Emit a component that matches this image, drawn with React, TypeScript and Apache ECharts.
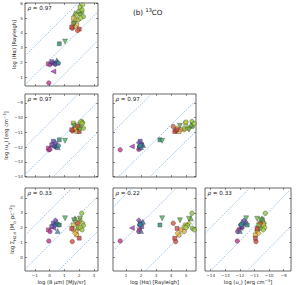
import React, { useEffect, useRef } from 'react';
import * as echarts from 'echarts';

const FONT = 'DejaVu Sans';
const W = 299;
const H = 285;

// Per-region values: log 8um, log Halpha, log u_nu, log Sigma_H2,d
const logP8 = [
  -0.05, 0.26, -0.08, 0.03, 0.26, 0.15, 0.37, 0.49, 0.55, 0.4, 0.6, 0.66, 1.05,
  2.18, 2.24, 2.06, 1.95, 1.72, 1.84, 1.61, 1.79, 1.95, 1.61, 1.84, 1.72, 1.54, 2.01, 1.9, 2.29, 2.06, 1.66, 2.1, 1.5, 2.2,
];
const logHa = [
  0.61, 1.39, 1.9, 1.85, 1.95, 2.05, 1.9, 2.13, 2.0, 1.85, 1.95, 3.26, 3.41,
  5.4, 5.89, 5.73, 5.43, 5.33, 5.2, 4.98, 4.88, 4.88, 4.65, 4.54, 4.42, 4.31, 4.25, 4.15, 5.1, 5.2, 4.6, 5.0, 4.4, 5.55,
];
const logU = [
  -12.18, -11.95, -12.06, -12.15, -11.6, -11.84, -11.95, -11.85, -12.0, -11.7, -11.9, -11.5, -11.57,
  -10.26, -10.35, -10.45, -10.6, -10.49, -10.71, -10.37, -10.82, -10.71, -10.82, -10.94, -10.71, -10.9, -10.94, -10.6, -10.71, -10.82, -10.55, -10.3, -10.82, -10.4,
];
const logSigma = [
  1.1, 1.98, 1.85, 1.74, 2.3, 2.07, 2.18, 2.4, 1.78, 2.5, 2.2, 2.18, 2.63,
  2.97, 2.3, 2.52, 1.96, 2.63, 2.3, 2.18, 1.74, 2.05, 1.85, 1.51, 1.62, 1.06, 1.29, 2.3, 2.15, 2.6, 2.5, 2.0, 1.95, 1.85,
];
const pointColors = [
  '#c2378f', '#a040b8', '#d0458a', '#b03c9c', '#5b4cb5', '#6d46ab', '#4260bd', '#3a6aa8', '#4a7fa6', '#7a4fb2', '#3b8c94', '#2e8b6e', '#4caf5f',
  '#8fc640', '#a8d23c', '#9ccb3b', '#7db843', '#68ad4b', '#b6cc3a', '#c9c83a', '#d9b842', '#a9c242', '#e39f3f', '#eab83b', '#f0c43e', '#d6483a', '#cf3f3f', '#d55a3c', '#8cc23f', '#72b444', '#5aa84f', '#b2d23e', '#c44a45', '#98c93f',
];
const pointShapes = [
  'circle', 'triL', 'rect', 'circle', 'rect', 'rect', 'circle', 'triangle', 'triangle', 'diamond', 'circle', 'rect', 'triDown',
  'circle', 'circle', 'rect', 'circle', 'triangle', 'diamond', 'rect', 'circle', 'circle', 'circle', 'rect', 'diamond', 'circle', 'rect', 'circle', 'circle', 'triDown', 'triDown', 'circle', 'rect', 'circle',
];

// Corner layout
const colVars = [logP8, logHa, logU];
const rowVars = [logHa, logU, logSigma];
const panelRows = [0, 1, 1, 2, 2, 2];
const panelCols = [0, 0, 1, 0, 1, 2];
const rhoValues = ['0.97', '0.97', '0.97', '0.33', '0.22', '0.33'];
const diagOffsets = [
  [0.2, 2.15, 4.1],
  [-14.25, -12.2, -10.35],
  [-16.6, -14.5, -11.1],
  [-1.5, 0.85, 3.15],
  [-3.2, 0.3, 3.25],
  [10.6, 13.1, 16.0],
];

const colTicks = [[-1, 0, 1, 2, 3], [1, 2, 3, 4, 5], [-14, -13, -12, -11, -10, -9]];
const rowTicks = [[1, 2, 3, 4, 5, 6], [-14, -13, -12, -11, -10, -9], [0, 1, 2, 3, 4]];
const colRanges = [[-1.66, 3.28], [0.13, 5.67], [-14.39, -8.5]];
const rowRanges = [[0.4, 6.02], [-14.02, -8.4], [-0.92, 4.67]];

const colNames = [
  '{n|log (8 μm) [MJy/sr]}',
  '{n|log (Hα) [Rayleigh]}',
  '{n|log (u}{s|ν}{n|) [erg cm}{p|−3}{n|]}',
];
const rowNames = [
  '{n|log (Hα) [Rayleigh]}',
  '{n|log (u}{s|ν}{n|) [erg cm}{p|−3}{n|]}',
  '{n|log Σ}{s|H2,d}{n| [M}{s|⊙}{n| pc}{p|−2}{n|]}',
];
const rowNameGaps = [6, 13, 7];

const colBoxes = [[25, 98], [113, 196], [205, 291]];
const rowBoxes = [[3, 86], [94, 177], [188, 271]];

const nameRich = {
  n: { fontSize: 5.2, fontFamily: FONT, color: '#222', lineHeight: 8 },
  s: { fontSize: 3.8, fontFamily: FONT, color: '#222', verticalAlign: 'bottom' },
  p: { fontSize: 3.8, fontFamily: FONT, color: '#222', verticalAlign: 'top' },
};

const fmt = (v: number) => (v < 0 ? '−' + Math.abs(v) : String(v));

function buildOption() {
  const grid: any[] = [];
  const xAxis: any[] = [];
  const yAxis: any[] = [];
  const series: any[] = [];
  const graphic: any[] = [];
  const tickStyle = { color: '#222', width: 0.5 };

  panelRows.forEach((r, i) => {
    const c = panelCols[i];
    const isBottom = r === 2;
    const isLeft = c === 0;
    grid.push({
      left: colBoxes[c][0],
      top: rowBoxes[r][0],
      width: colBoxes[c][1] - colBoxes[c][0],
      height: rowBoxes[r][1] - rowBoxes[r][0],
      show: true,
      borderColor: '#262626',
      borderWidth: 0.7,
      backgroundColor: 'transparent',
      containLabel: false,
      outerBoundsMode: 'none',
    });
    const xBase = {
      type: 'value',
      gridIndex: i,
      min: colRanges[c][0],
      max: colRanges[c][1],
      axisLine: { show: false, onZero: false },
      splitLine: { show: false },
      axisTick: { show: true, inside: true, length: 2, customValues: colTicks[c], lineStyle: tickStyle },
    };
    xAxis.push({
      ...xBase,
      position: 'bottom',
      axisLabel: {
        show: isBottom,
        customValues: colTicks[c],
        formatter: fmt,
        fontSize: 4.2,
        margin: 2,
        color: '#333',
        fontFamily: FONT,
      },
      name: isBottom ? colNames[c] : '',
      nameLocation: 'middle',
      nameGap: 7,
      nameTextStyle: { rich: nameRich },
    });
    xAxis.push({ ...xBase, position: 'top', axisLabel: { show: false } });
    const yBase = {
      type: 'value',
      gridIndex: i,
      min: rowRanges[r][0],
      max: rowRanges[r][1],
      axisLine: { show: false, onZero: false },
      splitLine: { show: false },
      axisTick: { show: true, inside: true, length: 2, customValues: rowTicks[r], lineStyle: tickStyle },
    };
    yAxis.push({
      ...yBase,
      position: 'left',
      axisLabel: {
        show: isLeft,
        customValues: rowTicks[r],
        formatter: fmt,
        fontSize: 4.2,
        margin: 2,
        color: '#333',
        fontFamily: FONT,
      },
      name: isLeft ? rowNames[r] : '',
      nameLocation: 'middle',
      nameGap: rowNameGaps[r],
      nameTextStyle: { rich: nameRich },
    });
    yAxis.push({ ...yBase, position: 'right', axisLabel: { show: false } });

    const xmin = colRanges[c][0];
    const xmax = colRanges[c][1];
    diagOffsets[i].forEach((off) => {
      series.push({
        type: 'line',
        xAxisIndex: 2 * i,
        yAxisIndex: 2 * i,
        data: [
          [xmin, xmin + off],
          [xmax, xmax + off],
        ],
        symbol: 'none',
        silent: true,
        clip: true,
        z: 1,
        lineStyle: { color: '#86b7e3', width: 0.8, type: [1.6, 1.1] },
      });
    });

    const xs = colVars[c];
    const ys = rowVars[r];
    series.push({
      type: 'scatter',
      xAxisIndex: 2 * i,
      yAxisIndex: 2 * i,
      clip: true,
      z: 3,
      data: xs.map((xv, k) => {
        const sh = pointShapes[k];
        const symbol = sh === 'rect' ? 'rect' : sh === 'diamond' ? 'diamond' : sh === 'circle' ? 'circle' : 'triangle';
        const rot = sh === 'triDown' ? 180 : sh === 'triL' ? 90 : 0;
        return {
          value: [xv, ys[k]],
          symbol,
          symbolRotate: rot,
          symbolSize: sh === 'circle' ? 4.5 : sh === 'rect' ? 4 : 5,
          itemStyle: { color: pointColors[k], borderColor: '#222', borderWidth: 0.4 },
        };
      }),
    });

    graphic.push({
      type: 'text',
      left: colBoxes[c][0] + 2.5,
      top: rowBoxes[r][0] + 1.5,
      style: {
        text: '{i|ρ}{n| = ' + rhoValues[i] + '}',
        rich: {
          i: { fontSize: 5.6, fontStyle: 'italic', fontFamily: FONT, fill: '#111' },
          n: { fontSize: 5.6, fontFamily: FONT, fill: '#111' },
        },
      },
    });
  });

  return {
    animation: false,
    backgroundColor: '#ffffff',
    title: {
      text: '{a|(b) }{s|13}{a|CO}',
      left: 133,
      top: 7,
      padding: 0,
      textStyle: {
        fontWeight: 'normal',
        rich: {
          a: { fontSize: 7.2, fontFamily: FONT, fontWeight: 'normal', color: '#111', lineHeight: 10 },
          s: { fontSize: 5, fontFamily: FONT, fontWeight: 'normal', color: '#111', verticalAlign: 'top' },
        },
      },
    },
    grid,
    xAxis,
    yAxis,
    series,
    graphic,
  };
}

export default function App() {
  const ref = useRef<HTMLDivElement>(null);
  useEffect(() => {
    if (!ref.current) return;
    const chart = echarts.init(ref.current, undefined, { renderer: 'svg' });
    chart.setOption(buildOption() as any);
    return () => chart.dispose();
  }, []);
  return (
    <div
      ref={ref}
      style={{ position: 'absolute', left: 0, top: 0, width: W, height: H, background: '#fff' }}
    />
  );
}
